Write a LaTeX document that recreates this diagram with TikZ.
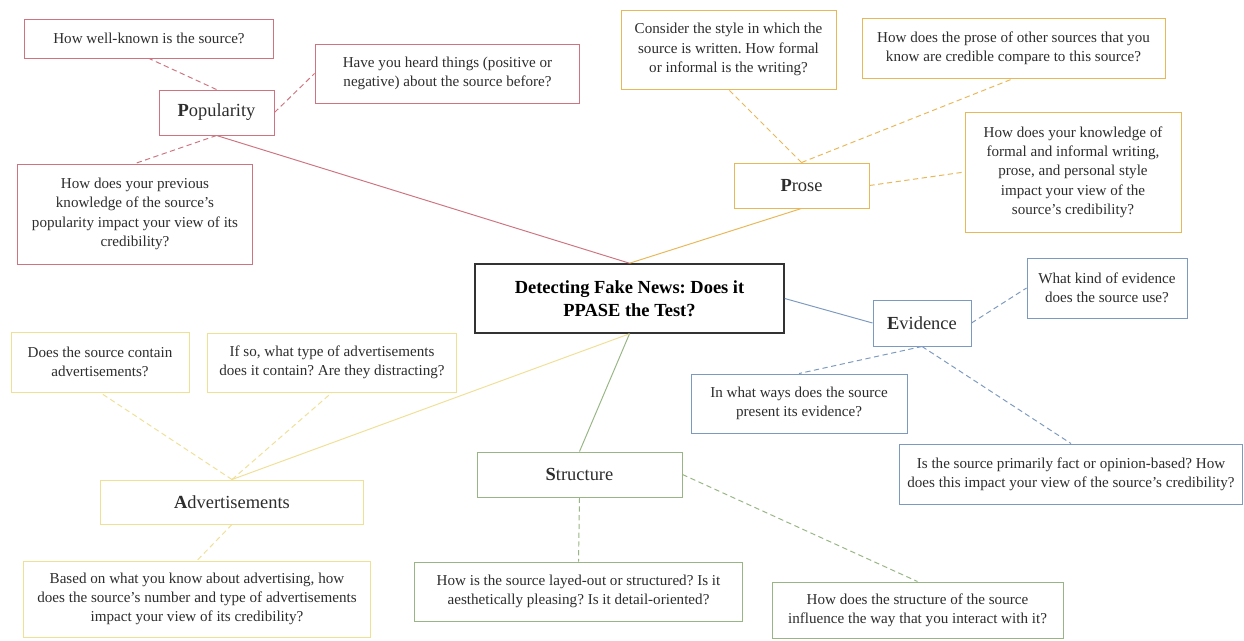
\documentclass[tikz,border=0pt]{standalone}
\usepackage{fontspec}
\setmainfont{Liberation Serif}
\usepackage{tikz}
\usetikzlibrary{arrows,calc,positioning,shapes}
\tikzset{
  box_n/.style = {draw, rectangle, align=center, inner sep=0pt, fill=white, text=my_text,
  line width=0.55pt, font=\fontsize{8.6}{11}\selectfont},
  box_t/.style = {box_n, font=\fontsize{10.5}{12}\selectfont},
  box_m/.style = {box_n, draw=my_black, text=black, line width=0.9pt,
  font=\bfseries\fontsize{10.5}{13}\selectfont}
}
\definecolor{my_black}{RGB}{51, 51, 51}
\definecolor{my_text}{RGB}{45, 45, 45}
\definecolor{my_pink}{RGB}{206, 116, 128}
\definecolor{my_gold}{RGB}{232, 184, 88}
\definecolor{my_yellow}{RGB}{240, 224, 150}
\definecolor{my_blue}{RGB}{124, 154, 192}
\definecolor{my_green}{RGB}{152, 182, 132}

\begin{document}
\frenchspacing
\begin{tikzpicture}[x=0.02cm, y=-0.02cm,
        	pop/.style={draw=my_pink},
        	prs/.style={draw=my_gold},
        	adv/.style={draw=my_yellow},
        	evi/.style={draw=my_blue},
        	str/.style={draw=my_green},
        	link/.style={line width=0.55pt},
        	sub/.style={line width=0.55pt, dash pattern=on 3pt off 2pt}]
    \fill[white] (0,0) rectangle (1244,640);
    \useasboundingbox (0,0) rectangle (1244,640);

    % centre
    \node [box_m, minimum width=6.18cm, minimum height=1.38cm] (main) at (629.5,298.5)
        {Detecting Fake News: Does it\\ PPASE the Test?};

    % popularity
    \node [box_t, pop, minimum width=2.3cm, minimum height=0.9cm] (pop_t) at (216.5,112.5) {\textbf{P}opularity};
    \node [box_n, pop, minimum width=5cm, minimum height=0.78cm] (pop_a) at (149,38.5)
        {How well-known is the source?};
    \node [box_n, pop, minimum width=5.3cm, minimum height=1.18cm] (pop_b) at (447.5,73.5)
        {Have you heard things (positive or\\ negative) about the source before?};
    \node [box_n, pop, minimum width=4.72cm, minimum height=2cm] (pop_c) at (135,214)
        {How does your previous\\ knowledge of the source’s\\ popularity impact your view of its\\ credibility?};

    % prose
    \node [box_t, prs, minimum width=2.7cm, minimum height=0.9cm] (prs_t) at (801.5,185.5) {\textbf{P}rose};
    \node [box_n, prs, minimum width=4.3cm, minimum height=1.58cm] (prs_a) at (728.5,49.5)
        {Consider the style in which the\\ source is written. How formal\\ or informal is the writing?};
    \node [box_n, prs, minimum width=6.06cm, minimum height=1.2cm] (prs_b) at (1013.5,48)
        {How does the prose of other sources that you\\ know are credible compare to this source?};
    \node [box_n, prs, minimum width=4.32cm, minimum height=2.4cm] (prs_c) at (1073,172)
        {How does your knowledge of\\ formal and informal writing,\\ prose, and personal style\\ impact your view of the\\ source’s credibility?};

    % evidence
    \node [box_t, evi, minimum width=1.96cm, minimum height=0.92cm] (evi_t) at (922,323) {\textbf{E}vidence};
    \node [box_n, evi, minimum width=3.2cm, minimum height=1.2cm] (evi_a) at (1107,288)
        {What kind of evidence\\ does the source use?};
    \node [box_n, evi, minimum width=4.32cm, minimum height=1.18cm] (evi_b) at (799,403.5)
        {In what ways does the source\\ present its evidence?};
    \node [box_n, evi, minimum width=6.88cm, minimum height=1.2cm] (evi_c) at (1071,474)
        {Is the source primarily fact or opinion-based? How\\ does this impact your view of the source’s credibility?};

    % structure
    \node [box_t, str, minimum width=4.1cm, minimum height=0.9cm] (str_t) at (579.5,474.5) {\textbf{S}tructure};
    \node [box_n, str, minimum width=6.58cm, minimum height=1.18cm] (str_a) at (578.5,591.5)
        {How is the source layed-out or structured? Is it\\ aesthetically pleasing? Is it detail-oriented?};
    \node [box_n, str, minimum width=5.82cm, minimum height=1.12cm] (str_b) at (917.5,610)
        {How does the structure of the source\\ influence the way that you interact with it?};

    % advertisements
    \node [box_t, adv, minimum width=5.28cm, minimum height=0.88cm] (adv_t) at (232,502) {\textbf{A}dvertisements};
    \node [box_n, adv, minimum width=3.56cm, minimum height=1.2cm] (adv_a) at (100,362)
        {Does the source contain\\ advertisements?};
    \node [box_n, adv, minimum width=5cm, minimum height=1.18cm] (adv_b) at (332,362.5)
        {If so, what type of advertisements\\ does it contain? Are they distracting?};
    \node [box_n, adv, minimum width=6.96cm, minimum height=1.52cm] (adv_c) at (197,599)
        {Based on what you know about advertising, how\\ does the source’s number and type of advertisements\\ impact your view of its credibility?};

    % links to the centre
    \draw [link, my_pink] (pop_t.south) -- (main.north);
    \draw [link, my_gold] (prs_t.south) -- (main.north);
    \draw [link, my_blue] (main.east) -- (evi_t.west);
    \draw [link, my_green] (str_t.north) -- (main.south);
    \draw [link, my_yellow] (adv_t.north) -- (main.south);

    % links to the questions
    \draw [sub, my_pink] (pop_t.north) -- (pop_a.south);
    \draw [sub, my_pink] (pop_t.east) -- (pop_b.west);
    \draw [sub, my_pink] (pop_t.south) -- (pop_c.north);
    \draw [sub, my_gold] (prs_t.north) -- (prs_a.south);
    \draw [sub, my_gold] (prs_t.north) -- (prs_b.south);
    \draw [sub, my_gold] (prs_t.east) -- (prs_c.west);
    \draw [sub, my_blue] (evi_t.east) -- (evi_a.west);
    \draw [sub, my_blue] (evi_t.south) -- (evi_b.north);
    \draw [sub, my_blue] (evi_t.south) -- (evi_c.north);
    \draw [sub, my_green] (str_t.south) -- (str_a.north);
    \draw [sub, my_green] (str_t.east) -- (str_b.north);
    \draw [sub, my_yellow] (adv_t.north) -- (adv_a.south);
    \draw [sub, my_yellow] (adv_t.north) -- (adv_b.south);
    \draw [sub, my_yellow] (adv_t.south) -- (adv_c.north);
\end{tikzpicture}
\end{document}
